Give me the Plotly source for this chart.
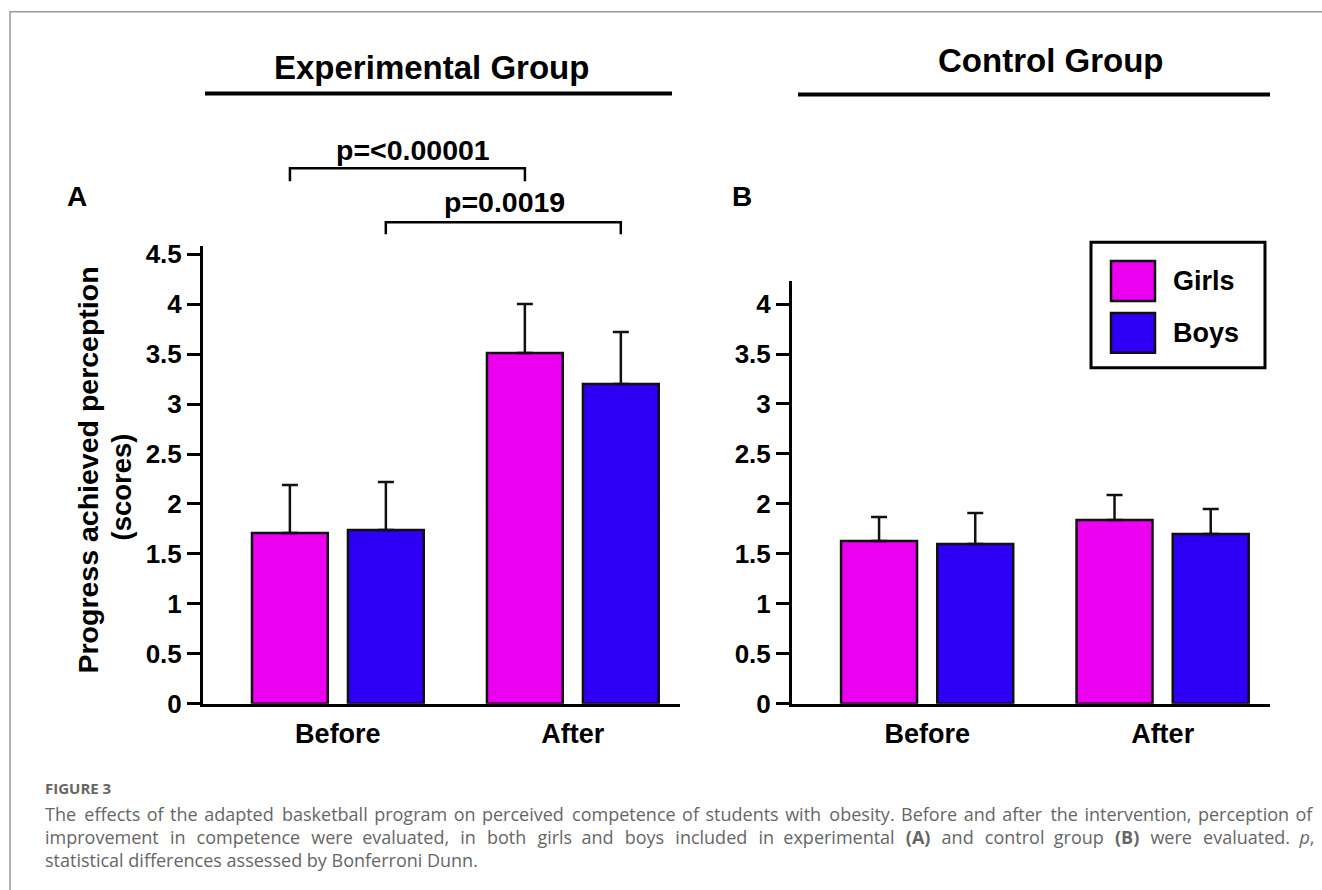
import plotly.graph_objects as go

# ---------------- data ----------------
categories = ["Before", "After"]
series_names = ["Girls", "Boys"]

exp_girls = [1.71, 3.51]
exp_girls_sd = [0.48, 0.49]
exp_boys = [1.74, 3.20]
exp_boys_sd = [0.48, 0.52]

ctl_girls = [1.63, 1.84]
ctl_girls_sd = [0.24, 0.25]
ctl_boys = [1.60, 1.70]
ctl_boys_sd = [0.31, 0.25]

exp_ticks = [0, 0.5, 1, 1.5, 2, 2.5, 3, 3.5, 4, 4.5]
exp_ticktext = ["0", "0.5", "1", "1.5", "2", "2.5", "3", "3.5", "4", "4.5"]
ctl_ticks = [0, 0.5, 1, 1.5, 2, 2.5, 3, 3.5, 4]
ctl_ticktext = ["0", "0.5", "1", "1.5", "2", "2.5", "3", "3.5", "4"]

GIRLS = "#EB00F0"
BOYS = "#2D00F5"
colors = [GIRLS, BOYS]

W, H = 1322, 890
SY, OY = 0.978, 5.2   # empirical vertical correction of the rendered page
def px(x):
    return x / W
def py(y):
    return 1 - ((y - OY) / SY) / H

FONT = "Liberation Sans, Arial, sans-serif"
CAPFONT = "Open Sans, Noto Sans, sans-serif"

fig = go.Figure()

panels = [
    ("x", "y", [exp_girls, exp_boys], [exp_girls_sd, exp_boys_sd]),
    ("x2", "y2", [ctl_girls, ctl_boys], [ctl_girls_sd, ctl_boys_sd]),
]
for xa, ya, vals, sds in panels:
    for name, v, sd, c in zip(series_names, vals, sds, colors):
        fig.add_trace(go.Bar(
            x=categories, y=v, name=name, xaxis=xa, yaxis=ya,
            marker=dict(color=c, line=dict(color="#111111", width=2.5)),
            error_y=dict(type="data", symmetric=False, array=sd,
                         arrayminus=[0] * len(sd), color="#111111",
                         thickness=2.5, width=8),
            showlegend=False, hoverinfo="skip",
        ))

axis_common = dict(showline=True, linecolor="black", linewidth=3,
                   showgrid=False, zeroline=False)
xcommon = dict(axis_common, type="category", ticks="", ticklabelstandoff=4,
               tickfont=dict(family=FONT, size=27, color="black", weight="bold"),
               range=[-0.574, 1.456], fixedrange=True)
ycommon = dict(axis_common, ticks="outside", ticklen=13, tickwidth=3,
               tickcolor="black",
               tickfont=dict(family=FONT, size=26, color="black", weight="bold"))

fig.update_layout(
    width=W, height=H,
    margin=dict(l=0, r=0, t=0, b=0),
    paper_bgcolor="white", plot_bgcolor="white",
    barmode="group", bargap=0.183, bargroupgap=0.21,
    xaxis=dict(xcommon, domain=[px(203), px(680)], anchor="y"),
    yaxis=dict(ycommon, domain=[py(704), py(245)], anchor="x",
               range=[0, 4.58], tickvals=exp_ticks, ticktext=exp_ticktext),
    xaxis2=dict(xcommon, domain=[px(792), px(1270)], anchor="y2"),
    yaxis2=dict(ycommon, domain=[py(704), py(280)], anchor="x2",
                range=[0, 4.23], tickvals=ctl_ticks, ticktext=ctl_ticktext),
)

ann = []
shapes = []

def text(x, y, s, size, xanchor="center", color="black", family=FONT,
         bold=True, textangle=0, yanchor="middle"):
    ann.append(dict(x=px(x), y=py(y), xref="paper", yref="paper", text=s,
                    showarrow=False, xanchor=xanchor, yanchor=yanchor,
                    textangle=textangle,
                    font=dict(family=family, size=size, color=color,
                              weight="bold" if bold else "normal")))

# headers
text(431, 66, "Experimental Group", 33)
text(1050, 59, "Control Group", 33)
shapes.append(dict(type="line", xref="paper", yref="paper",
                   x0=px(205), x1=px(672), y0=py(92), y1=py(92),
                   line=dict(color="black", width=4)))
shapes.append(dict(type="line", xref="paper", yref="paper",
                   x0=px(798), x1=px(1270), y0=py(93), y1=py(93),
                   line=dict(color="black", width=4)))

# panel letters
text(77, 195, "A", 28)
text(742, 195, "B", 28)

# significance brackets (spanning bar centres)
off = 0.204
def bracket(xa, xb, ytop, ybot):
    shapes.append(dict(type="path", xref="x", yref="paper",
                       path=f"M {xa},{py(ybot)} L {xa},{py(ytop)} L {xb},{py(ytop)} L {xb},{py(ybot)}",
                       line=dict(color="black", width=2.5)))
bracket(0 - off, 1 - off, 167, 180)
bracket(0 + off, 1 + off, 221, 233)
text(413, 149, "p=&lt;0.00001", 28.5)
text(504, 201, "p=0.0019", 28.5)

# y-axis title
text(88, 470, "Progress achieved perception", 28.5, textangle=-90)
text(121, 487, "(scores)", 27.5, textangle=-90)

# legend
shapes.append(dict(type="rect", xref="paper", yref="paper",
                   x0=px(1091), x1=px(1265), y0=py(241), y1=py(367),
                   line=dict(color="black", width=3), fillcolor="white"))
for i, (name, c) in enumerate(zip(series_names, colors)):
    y0 = 260 + i * 52
    shapes.append(dict(type="rect", xref="paper", yref="paper",
                       x0=px(1111), x1=px(1155), y0=py(y0), y1=py(y0 + 40),
                       line=dict(color="#111111", width=2.5), fillcolor=c))
    text(1171, y0 + 20, name, 27, xanchor="left")

# outer frame
shapes.append(dict(type="rect", xref="paper", yref="paper",
                   x0=px(10), x1=px(1340), y0=py(10), y1=py(910),
                   line=dict(color="#9a9a9a", width=1.5)))

# caption
capc = "#666666"
text(43, 788, "FIGURE 3", 15, xanchor="left", color=capc, family=CAPFONT, bold=True)
NB = "\u00a0"
HS = "\u200a"

def justify(words, base_extra, extra_every, extra_ns):
    """Join words with widened spaces to imitate justified caption text."""
    out = words[0]
    for i, w in enumerate(words[1:]):
        sep = " " + base_extra
        if extra_every and i % extra_every < extra_ns:
            sep += HS
        out += sep + w
    return out

line1 = ("The effects of the adapted basketball program on perceived competence of students "
         "with obesity. Before and after the intervention, perception of")
line2 = ("improvement in competence were evaluated, in both girls and boys included in "
         "experimental <b>(A)</b> and control group <b>(B)</b> were evaluated. <i>p</i>,")
line3 = "statistical differences assessed by Bonferroni Dunn."
cap_lines = [
    justify(line1.split(" "), HS, 4, 1),
    justify(line2.split(" "), NB, 4, 3),
    line3,
]
for i, line in enumerate(cap_lines):
    text(43, 814 + i * 23.5, line, 18, xanchor="left", color=capc,
         family=CAPFONT, bold=False)

fig.update_layout(annotations=ann, shapes=shapes)
fig.write_html("out.html")
